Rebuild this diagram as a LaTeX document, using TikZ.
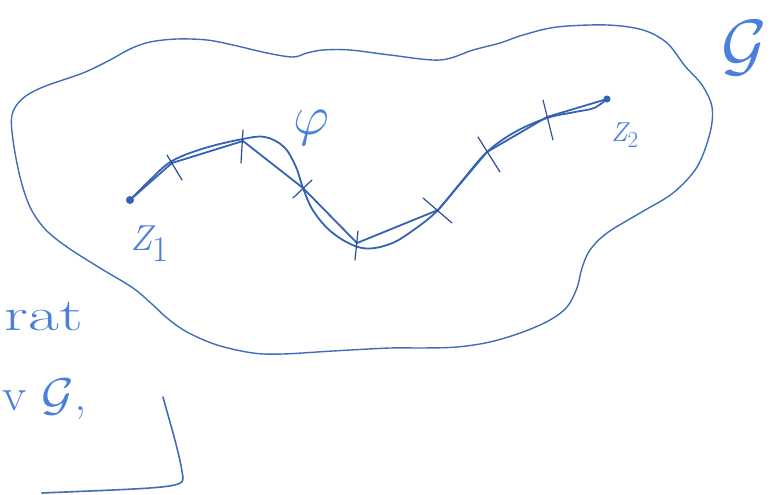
\documentclass[tikz,border=0pt]{standalone}
\usepackage{amsmath}
\begin{document}
\begin{tikzpicture}[x=1pt,y=-1pt,
  ink/.style={draw=penblue!85!black, line width=1.4pt, line join=round, line cap=round},
  pathline/.style={draw=darkpen, line width=1.8pt, line join=round, line cap=round},
  tickline/.style={draw=darkpen!80!black, line width=1.2pt, line cap=round},
  lbl/.style={text=penblue, inner sep=0pt, font=\Huge}]
\definecolor{penblue}{HTML}{4A80DA}
\definecolor{darkpen}{HTML}{3462B4}
\useasboundingbox (0,0) rectangle (780,495);
% region G
\draw[ink] plot[smooth cycle, tension=0.55] coordinates {
 (12,115) (22,99) (43,87) (83,73) (110,60) (130,49) (150,42) (177,39) (207,40) (233,45)
 (267,53) (293,57) (307,53) (323,50) (350,50) (390,55) (440,60) (473,50) (500,43)
 (523,35) (557,27) (607,25) (643,30) (667,43) (685,66) (702,85) (712,107) (710,133)
 (697,167) (673,193) (640,213) (607,233) (590,250) (582,268) (577,288) (567,307)
 (550,320) (523,332) (490,342) (457,347) (423,348) (390,348) (333,351) (283,354)
 (253,353) (217,345) (187,332) (167,318) (153,305) (133,288) (100,268) (67,247)
 (45,229) (30,207) (20,177) (13,140)};
% curve points
\coordinate (z1) at (130,200);
\coordinate (p1) at (172,163);
\coordinate (p2) at (243,141);
\coordinate (p3) at (303,188);
\coordinate (p4) at (357,243);
\coordinate (p5) at (438,210);
\coordinate (p6) at (487,152);
\coordinate (p7) at (547,117);
\coordinate (z2) at (607,99);
% smooth curve phi
\draw[pathline] plot[smooth, tension=0.6] coordinates {
 (130,200) (150,180) (172,161) (205,148) (243,139) (265,137) (284,147) (296,167)
 (303,188) (314,212) (334,234) (362,248) (390,244) (415,229) (438,210) (462,181)
 (487,152) (515,132) (547,118) (575,112) (594,108) (607,99)};
% polygonal line
\draw[pathline] (z1) -- (p1) -- (p2) -- (p3) -- (p4) -- (p5) -- (p6) -- (p7) -- (z2);
\fill[darkpen] (z1) circle (4);
\fill[darkpen] (z2) circle (3.5);
% ticks
\coordinate (t1a) at (167,155); \coordinate (t1b) at (182,180);
\coordinate (t2a) at (243,130); \coordinate (t2b) at (241,163);
\coordinate (t3a) at (312,180); \coordinate (t3b) at (293,198);
\coordinate (t4a) at (358,231); \coordinate (t4b) at (355,260);
\coordinate (t5a) at (423,198); \coordinate (t5b) at (452,223);
\coordinate (t6a) at (478,137); \coordinate (t6b) at (500,172);
\coordinate (t7a) at (543,100); \coordinate (t7b) at (553,140);
\foreach \i in {1,...,7} {\draw[tickline] (t\i a) -- (t\i b);}
% labels
\node[lbl, scale=2.25] (phi) at (311,128) {$\varphi$};
\node[lbl, scale=1.45, anchor=north west] (lz1) at (130,226) {$\mathit{Z}_{\textstyle 1}$};
\node[lbl, scale=1.1, anchor=north west] (lz2) at (611,123) {$\mathit{Z}_{2}$};
\node[lbl, scale=2.8] (lG) at (744,48) {$\mathcal{G}$};
\node[lbl, xscale=2.7, yscale=1.85, anchor=base west] (rat) at (4,330) {rat};
\node[lbl, xscale=2.0, yscale=1.85, anchor=base west] (vG) at (2,410) {v $\mathcal{G}$,};
% bracket
\coordinate (b1) at (163,397);
\coordinate (b2) at (183,478);
\coordinate (b3) at (42,493);
\draw[ink, line width=1.6pt] (b1) .. controls (172,430) and (180,455) .. (b2)
  .. controls (185,488) and (160,488) .. (b3);
\end{tikzpicture}
\end{document}
